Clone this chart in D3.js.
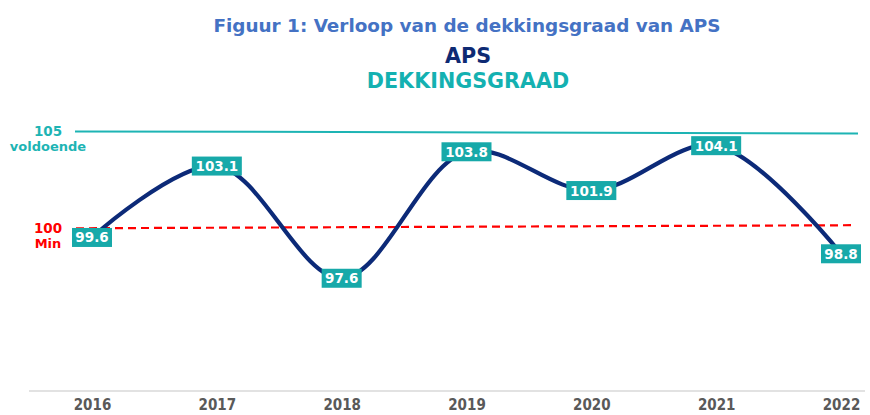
<!DOCTYPE html>
<html><head><meta charset="utf-8">
<script src="https://cdn.jsdelivr.net/npm/d3@7"></script>
<style>html,body{margin:0;padding:0;background:#fff;}svg{display:block;}</style>
</head><body>
<script>
const years = ["2016","2017","2018","2019","2020","2021","2022"];
const dekkingsgraad = [99.6, 103.1, 97.6, 103.8, 101.9, 104.1, 98.8];
// reference lines (value at left end, value at right end)
const voldoendeLine = [104.8, 104.7];
const minLine = [100.05, 100.2];
const refLabels = [["105","voldoende"],["100","Min"]];
const yDomain = [92, 106];

const W = 870, H = 415;
const svg = d3.select("body").append("svg").attr("width", W).attr("height", H);
const font = "'DejaVu Sans', Verdana, sans-serif";
const fontC = "'DejaVu Sans Condensed', 'DejaVu Sans', sans-serif";

const x = d3.scalePoint().domain(years).range([92, 841]).padding(0);
const y = d3.scaleLinear().domain(yDomain).range([392.5, 106.9]);

// titles
svg.append("text").attr("x", 467).attr("y", 32).attr("text-anchor", "middle")
  .attr("font-family", font).attr("font-weight", "bold").attr("font-size", 18.4)
  .attr("fill", "#4472c4").text("Figuur 1: Verloop van de dekkingsgraad van APS");
svg.append("text").attr("x", 468).attr("y", 63).attr("text-anchor", "middle")
  .attr("font-family", font).attr("font-weight", "bold").attr("font-size", 20.7)
  .attr("fill", "#0e2a73").text("APS");
svg.append("text").attr("x", 468).attr("y", 88).attr("text-anchor", "middle")
  .attr("font-family", font).attr("font-weight", "bold").attr("font-size", 20.7)
  .attr("fill", "#14b1b1").text("DEKKINGSGRAAD");

// axis baseline
svg.append("line").attr("x1", 29).attr("x2", 865).attr("y1", 391).attr("y2", 391)
  .attr("stroke", "#d9d9d9").attr("stroke-width", 1.5);

// x axis labels via d3 axis
const xAxis = svg.append("g").attr("transform", "translate(0,391)")
  .call(d3.axisBottom(x).tickSize(0).tickPadding(8));
xAxis.select(".domain").remove();
xAxis.selectAll("text").attr("font-family", fontC).attr("font-weight", "bold")
  .attr("font-size", 15).attr("fill", "#595959");

// reference lines
svg.append("line").attr("x1", 75).attr("x2", 858)
  .attr("y1", y(voldoendeLine[0])).attr("y2", y(voldoendeLine[1]))
  .attr("stroke", "#1db4b4").attr("stroke-width", 2);
svg.append("line").attr("x1", 76).attr("x2", 852)
  .attr("y1", y(minLine[0])).attr("y2", y(minLine[1]))
  .attr("stroke", "#ff0000").attr("stroke-width", 2.2).attr("stroke-dasharray", "8,5");

// reference labels
const refColors = ["#1db4b4", "#ff0000"];
const refY = [y(voldoendeLine[0]), y(minLine[0])];
refLabels.forEach((lab, i) => {
  const t = svg.append("text").attr("text-anchor", "middle").attr("font-family", font)
    .attr("font-weight", "bold").attr("font-size", 13.5).attr("fill", refColors[i]);
  t.append("tspan").attr("x", 48).attr("y", refY[i] + 5).text(lab[0]);
  t.append("tspan").attr("x", 48).attr("y", refY[i] + 20).attr("font-size", 13).text(lab[1]);
});

// main line
const line = d3.line().x((d, i) => x(years[i])).y(d => y(d)).curve(d3.curveCatmullRom.alpha(0.5));
svg.append("path").datum(dekkingsgraad).attr("d", line).attr("fill", "none")
  .attr("stroke", "#0c2a78").attr("stroke-width", 4.2).attr("stroke-linecap", "round");

// data labels
const lbl = svg.append("g").selectAll("g").data(dekkingsgraad).join("g")
  .attr("transform", (d, i) => `translate(${x(years[i])},${y(d)})`);
lbl.each(function(d) {
  const g = d3.select(this);
  const txt = d.toFixed(1);
  const w = txt.length === 4 ? 40 : 50;
  g.append("rect").attr("x", -w / 2).attr("y", -9.5).attr("width", w).attr("height", 19)
    .attr("fill", "#17a9a9");
  g.append("text").attr("text-anchor", "middle").attr("y", 5)
    .attr("font-family", font).attr("font-weight", "bold").attr("font-size", 13.5)
    .attr("fill", "#ffffff").text(txt);
});
</script>
</body></html>
